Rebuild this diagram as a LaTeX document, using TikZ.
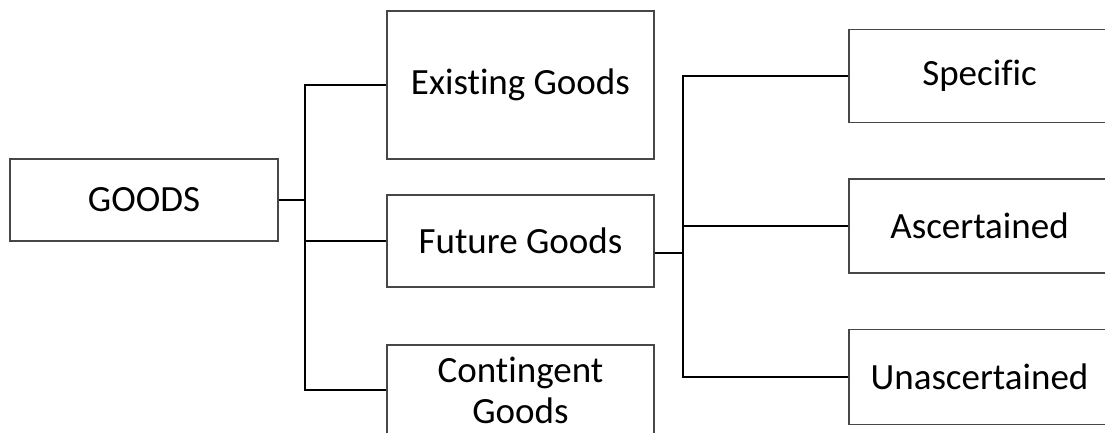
\documentclass[tikz,border=0pt]{standalone}
\usepackage{fontspec}
\setmainfont{Carlito}[Ligatures={NoCommon}]
\begin{document}
\begin{tikzpicture}[x=1pt,y=-1pt,
  box/.style={draw=black!72, line width=1.3pt, fill=white, inner sep=0pt,
    align=center, font=\fontsize{37}{41}\selectfont},
  conn/.style={draw=black, line width=1.6pt}]
\useasboundingbox (0,0) rectangle (1105,433);
\clip (0,0) rectangle (1105,433);

% first level
\node[box, minimum width=268pt, minimum height=82pt]  (goods)   at (144,200)   {GOODS};
\node[box, minimum width=267pt, minimum height=148pt] (exist)   at (520.5,85)  {Existing Goods};
\node[box, minimum width=267pt, minimum height=92pt]  (future)  at (520.5,241) {Future Goods};
\node[box, minimum width=267pt, minimum height=90pt]  (conting) at (520.5,390)  {Contingent\\Goods};

% second level (boxes run past the right edge)
\node[box, minimum width=261pt, minimum height=93pt] (spec)  at (979.5,76)  {Specific};
\node[box, minimum width=261pt, minimum height=94pt] (asc)   at (979.5,226)   {Ascertained};
\node[box, minimum width=261pt, minimum height=95pt] (unasc) at (979.5,377) {Unascertained};

% connectors from GOODS
\coordinate (j1) at (305,200);
\draw[conn] (goods.east) -- (j1);
\draw[conn] (exist.west) -| (j1);
\draw[conn] (conting.west) -| (j1);
\draw[conn] (future.west) -- (future.west -| j1);

% connectors from Future Goods
\coordinate (fo) at ([yshift=-12pt]future.east);
\coordinate (j2) at (683,253);
\draw[conn] (fo) -- (j2);
\draw[conn] (spec.west) -| (j2);
\draw[conn] (unasc.west) -| (j2);
\draw[conn] (asc.west) -- (asc.west -| j2);
\end{tikzpicture}
\end{document}
